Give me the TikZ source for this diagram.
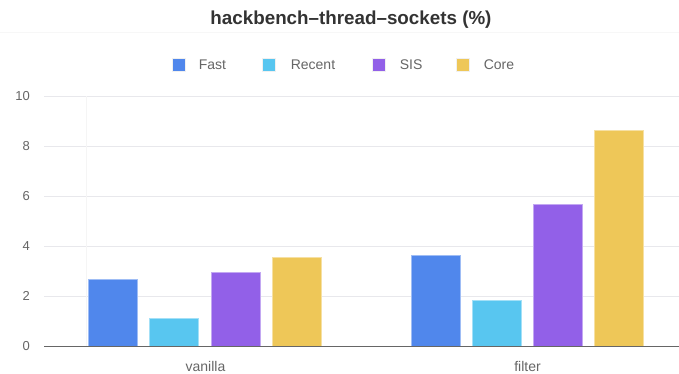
\documentclass[tikz,border=0pt]{standalone}
\usepackage{fontspec}
\setmainfont{Liberation Sans}
\usepackage{tikz}
\usetikzlibrary{positioning}
\definecolor{fastblue}{HTML}{5087EC}
\definecolor{recentcyan}{HTML}{58C6F0}
\definecolor{sispurple}{HTML}{9260E8}
\definecolor{coreyellow}{HTML}{EEC758}
\definecolor{txtgray}{HTML}{666666}
\definecolor{gridgray}{HTML}{E8E8EC}

\begin{document}
\begin{tikzpicture}[x=1pt, y=-1pt,
  bar/.style={line width=0.8pt},
  key/.style={minimum size=13pt, inner sep=0pt, draw=gray!12, line width=1.2pt},
  keylabel/.style={anchor=west, inner sep=0pt, text=txtgray, font=\fontsize{14}{14}\selectfont},
  ticklabel/.style={anchor=east, inner sep=0pt, text=txtgray, font=\fontsize{13}{13}\selectfont},
  catlabel/.style={inner sep=0pt, text=txtgray, font=\fontsize{14}{14}\selectfont}]
\useasboundingbox[fill=white] (0,0) rectangle (679,373);

% Title
\node[font=\bfseries\fontsize{18.8}{18.8}\selectfont, text=black!80] (title) at (351,20) {hackbench--thread--sockets (\%)};
\draw[gray!6] (0,32) -- (679,32);

% Legend
\node[key, fill=fastblue] (fastkey) at (179,65) {};
\node[keylabel, right=12.5pt of fastkey] (fastlabel) {Fast};
\node[key, fill=recentcyan] (recentkey) at (269,65) {};
\node[keylabel, right=14.5pt of recentkey] (recentlabel) {Recent};
\node[key, fill=sispurple] (siskey) at (379,65) {};
\node[keylabel, right=13.5pt of siskey] (sislabel) {SIS};
\node[key, fill=coreyellow] (corekey) at (463,65) {};
\node[keylabel, right=13.5pt of corekey] (corelabel) {Core};

% Grid and axis
\foreach \v in {2,4,...,10}
  \draw[gridgray, line width=1pt] (44,{346-25*\v}) -- (679,{346-25*\v});
\draw[gray!8] (86,96) -- (86,346);
\foreach \v in {0,2,...,10}
  \node[ticklabel] (tick\v) at (30,{346-25*\v}) {\v};

% Bars
\foreach \col/\x/\v in {fastblue/88.5/2.67, recentcyan/149.8/1.11, sispurple/211/2.93, coreyellow/272.3/3.56,
                        fastblue/411/3.61, recentcyan/472.2/1.81, sispurple/533.5/5.68, coreyellow/594.8/8.63}
  \filldraw[bar, fill=\col, draw=\col!55!white] (\x,346) rectangle ({\x+49},{346-25*\v});
\draw[black!60, line width=1pt] (44,346) -- (679,346);

% Categories
\node[catlabel] (vanilla) at (205.5,366.5) {vanilla};
\node[catlabel] (filter) at (527.5,366.5) {filter};
\end{tikzpicture}
\end{document}
